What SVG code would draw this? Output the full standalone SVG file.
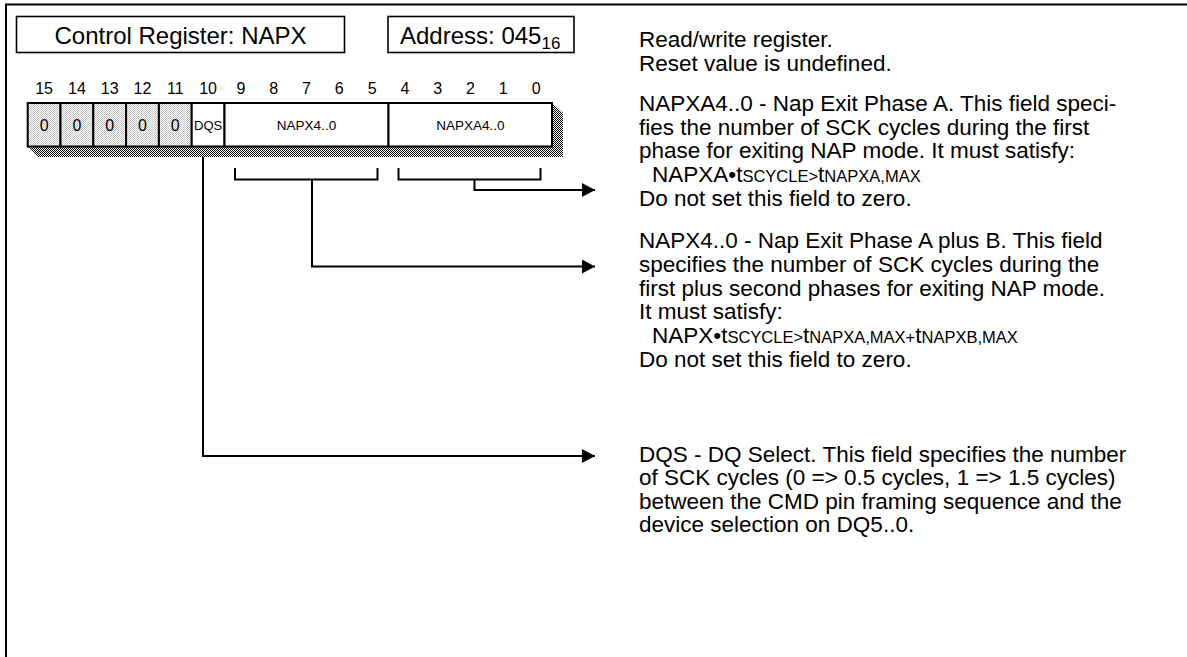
<svg xmlns="http://www.w3.org/2000/svg" width="1187" height="657" viewBox="0 0 1187 657">
<style>
  .t{font-family:"Liberation Sans",Arial,sans-serif;fill:#000}
  .box{fill:#fff;stroke:#000;stroke-width:1.6}
  .cell{stroke:#000;stroke-width:2}
  .ln{fill:none;stroke:#000;stroke-width:2}
  .body{font-size:22.5px}
  .sm{font-size:16px}
</style>
<defs>
  <pattern id="dark" width="2" height="2" patternUnits="userSpaceOnUse">
    <rect width="2" height="2" fill="#fff"/>
    <rect width="1" height="1" fill="#000"/>
    <rect x="1" y="1" width="1" height="1" fill="#000"/>
  </pattern>
  <pattern id="light" width="2" height="2" patternUnits="userSpaceOnUse">
    <rect width="2" height="2" fill="#fff"/>
    <rect width="1" height="1" fill="#c4c4c4"/>
    <rect x="1" y="1" width="1" height="1" fill="#c4c4c4"/>
  </pattern>
  <marker id="ah" markerWidth="14" markerHeight="14" refX="13" refY="7" orient="auto" markerUnits="userSpaceOnUse">
    <path d="M0,0 L13,7 L0,14 Z" fill="#000"/>
  </marker>
</defs>
<rect width="1187" height="657" fill="#fff"/>
<g id="frame">
  <path class="ln" d="M6,657 V4.5 H1187"/>
</g>
<g id="title">
  <rect class="box" x="16.5" y="16.5" width="328" height="36"/>
  <text class="t" x="180.5" y="44" font-size="24" text-anchor="middle">Control Register: NAPX</text>
</g>
<g id="address">
  <rect class="box" x="388" y="16.5" width="186" height="36"/>
  <text class="t" x="400" y="44" font-size="24">Address: 045<tspan font-size="17" dy="5">16</tspan></text>
</g>
<g id="bitnumbers" class="t sm" text-anchor="middle">
  <text x="44.1" y="93.5">15</text>
  <text x="76.9" y="93.5">14</text>
  <text x="109.7" y="93.5">13</text>
  <text x="142.5" y="93.5">12</text>
  <text x="175.3" y="93.5">11</text>
  <text x="208.1" y="93.5">10</text>
  <text x="240.9" y="93.5">9</text>
  <text x="273.7" y="93.5">8</text>
  <text x="306.5" y="93.5">7</text>
  <text x="339.3" y="93.5">6</text>
  <text x="372.1" y="93.5">5</text>
  <text x="404.9" y="93.5">4</text>
  <text x="437.7" y="93.5">3</text>
  <text x="470.5" y="93.5">2</text>
  <text x="503.3" y="93.5">1</text>
  <text x="536.1" y="93.5">0</text>
</g>
<g id="register">
  <polygon points="28,146.5 38,157 563,157 563,113 552,103" fill="url(#dark)"/>
  <rect class="cell" x="27.7" y="103" width="32.8" height="43.5" fill="url(#light)"/>
  <rect class="cell" x="60.5" y="103" width="32.8" height="43.5" fill="url(#light)"/>
  <rect class="cell" x="93.3" y="103" width="32.8" height="43.5" fill="url(#light)"/>
  <rect class="cell" x="126.1" y="103" width="32.8" height="43.5" fill="url(#light)"/>
  <rect class="cell" x="158.9" y="103" width="32.8" height="43.5" fill="url(#light)"/>
  <rect class="cell" x="191.7" y="103" width="32.8" height="43.5" fill="#fff"/>
  <rect class="cell" x="224.5" y="103" width="164" height="43.5" fill="#fff"/>
  <rect class="cell" x="388.5" y="103" width="163.5" height="43.5" fill="#fff"/>
  <g class="t sm" text-anchor="middle">
    <text x="44.1" y="131">0</text>
    <text x="76.9" y="131">0</text>
    <text x="109.7" y="131">0</text>
    <text x="142.5" y="131">0</text>
    <text x="175.3" y="131">0</text>
  </g>
  <text class="t" x="208.1" y="130" font-size="13" text-anchor="middle">DQS</text>
  <text class="t" x="306.5" y="130" font-size="13.5" text-anchor="middle">NAPX4..0</text>
  <text class="t" x="470.3" y="130" font-size="13.5" text-anchor="middle">NAPXA4..0</text>
</g>
<g id="connectors" class="ln">
  <path d="M235,168 V179.5 H377.5 V168"/>
  <path d="M398.5,168 V179.5 H540.5 V168"/>
  <path d="M474.5,179.5 V190 H595" marker-end="url(#ah)"/>
  <path d="M312,179.5 V266.5 H595" marker-end="url(#ah)"/>
  <path d="M203,157 V456 H595" marker-end="url(#ah)"/>
</g>
<g id="desc-general" class="t body">
  <text x="639" y="47">Read/write register.</text>
  <text x="639" y="71">Reset value is undefined.</text>
</g>
<g id="desc-napxa" class="t body">
  <text x="639" y="111">NAPXA4..0 - Nap Exit Phase A. This field speci-</text>
  <text x="639" y="135">fies the number of SCK cycles during the first</text>
  <text x="639" y="158">phase for exiting NAP mode. It must satisfy:</text>
  <text x="652" y="182">NAPXA•t<tspan font-size="16.5">SCYCLE&gt;</tspan>t<tspan font-size="16.5">NAPXA,MAX</tspan></text>
  <text x="639" y="206">Do not set this field to zero.</text>
</g>
<g id="desc-napx" class="t body">
  <text x="639" y="248">NAPX4..0 - Nap Exit Phase A plus B. This field</text>
  <text x="639" y="272">specifies the number of SCK cycles during the</text>
  <text x="639" y="296">first plus second phases for exiting NAP mode.</text>
  <text x="639" y="319">It must satisfy:</text>
  <text x="652" y="343">NAPX•t<tspan font-size="16.5">SCYCLE&gt;</tspan>t<tspan font-size="16.5">NAPXA,MAX+</tspan>t<tspan font-size="16.5">NAPXB,MAX</tspan></text>
  <text x="639" y="367">Do not set this field to zero.</text>
</g>
<g id="desc-dqs" class="t body">
  <text x="639" y="462">DQS - DQ Select. This field specifies the number</text>
  <text x="639" y="485">of SCK cycles (0 =&gt; 0.5 cycles, 1 =&gt; 1.5 cycles)</text>
  <text x="639" y="509">between the CMD pin framing sequence and the</text>
  <text x="639" y="532">device selection on DQ5..0.</text>
</g>
</svg>
